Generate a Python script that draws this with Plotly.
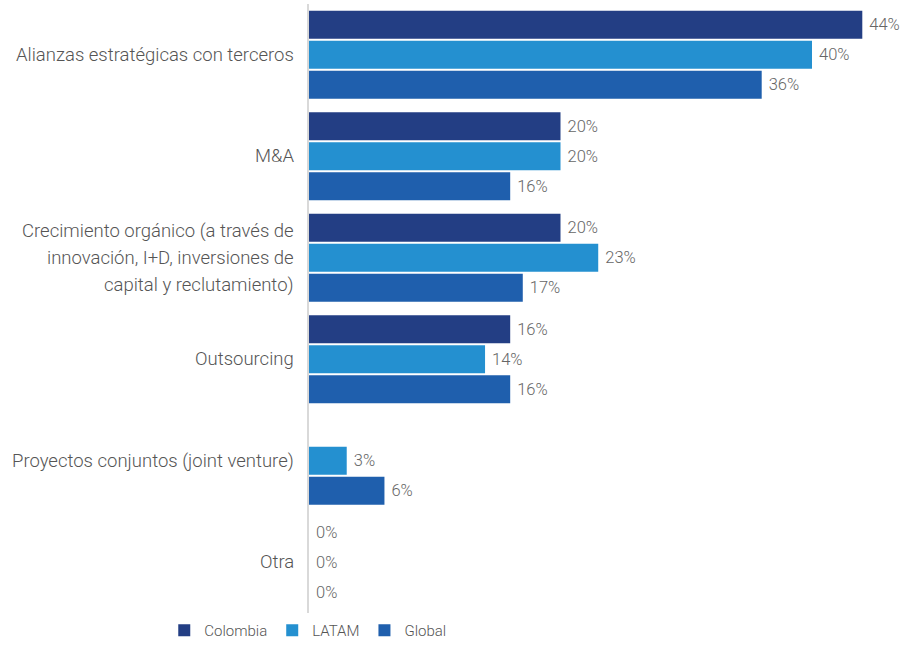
import plotly.graph_objects as go

categories = [
    "Alianzas estratégicas con terceros",
    "M&A",
    "Crecimiento orgánico (a través de<br>innovación, I+D, inversiones de<br>capital y reclutamiento)",
    "Outsourcing",
    "Proyectos conjuntos (joint venture)",
    "Otra",
]
series_names = ["Colombia", "LATAM", "Global"]
colombia = [44, 20, 20, 16, None, 0]
latam = [40, 20, 23, 14, 3, 0]
global_vals = [36, 16, 17, 16, 6, 0]
colors = ["#233E84", "#2490D0", "#1F5FAD"]

W, H = 903, 647
ML, MR, MT, MB = 309, 8, 4, 34
FONT = "Roboto, Liberation Sans, Arial, sans-serif"

fig = go.Figure()
for name, vals, col in zip(series_names, [colombia, latam, global_vals], colors):
    fig.add_trace(go.Bar(
        y=list(range(len(categories))),
        x=vals,
        name=name,
        orientation="h",
        marker=dict(color=col, line=dict(width=0)),
        text=[None if v is None else f"\u00a0{v}%" for v in vals],
        textposition="outside",
        textfont=dict(family=FONT, size=16.5, color="#666666", weight=300),
        cliponaxis=False,
        hoverinfo="skip",
    ))

# category labels, one annotation per line for wider line spacing
line_h = 27
for i, cat in enumerate(categories):
    lines = cat.split("<br>")
    n = len(lines)
    for j, ln in enumerate(lines):
        fig.add_annotation(
            x=0, xref="paper", xanchor="right", xshift=-13,
            y=i, yref="y", yanchor="middle",
            yshift=((n - 1) / 2 - j) * line_h,
            text=ln, showarrow=False,
            font=dict(family=FONT, size=18.5, color="#555555", weight=300),
        )

fig.update_layout(
    width=W, height=H,
    margin=dict(l=ML, r=MR, t=MT, b=MB, autoexpand=False),
    paper_bgcolor="white", plot_bgcolor="white",
    barmode="group", bargap=0.113, bargroupgap=0.067,
    xaxis=dict(range=[0, 46.6], showgrid=False, zeroline=False, showticklabels=False,
               showline=False),
    yaxis=dict(range=[5.5, -0.5], showgrid=False, zeroline=False, showticklabels=False,
               showline=True, linecolor="#d9d9d9", linewidth=2, tickvals=[]),
    showlegend=True,
    legend=dict(orientation="h", x=-0.247, xanchor="left", y=-0.0558, yanchor="bottom",
                font=dict(family=FONT, size=15, color="#555555", weight=300),
                itemwidth=30, traceorder="normal", borderwidth=0),
)

fig.write_html("out.html")
